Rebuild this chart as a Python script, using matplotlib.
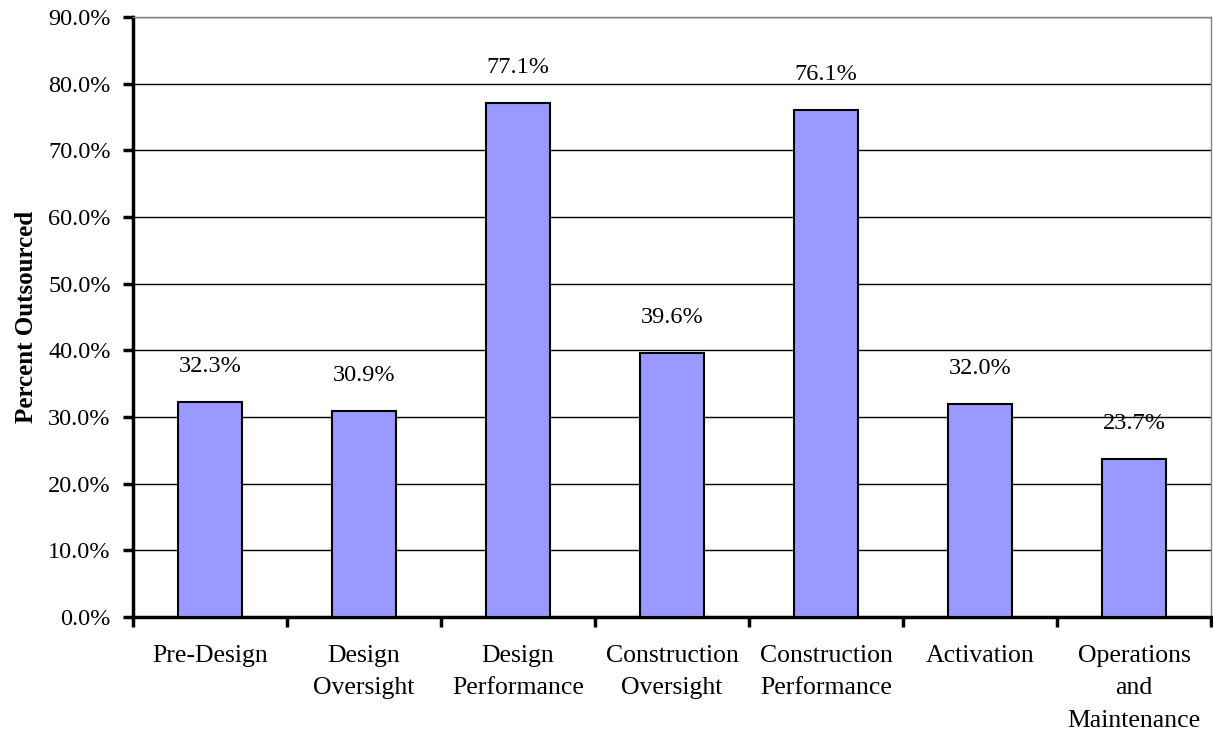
import numpy as np
import matplotlib.pyplot as plt

categories = ["Pre-Design", "Design\nOversight", "Design\nPerformance",
              "Construction\nOversight", "Construction\nPerformance",
              "Activation", "Operations\nand\nMaintenance"]
values = [32.3, 30.9, 77.1, 39.6, 76.1, 32.0, 23.7]
y_ticks = np.arange(0, 91, 10)

plt.rcParams["font.family"] = ["Liberation Serif", "DejaVu Serif"]

fig = plt.figure(figsize=(12.13, 7.36), dpi=100)
ax = fig.add_axes([133 / 1213, 119 / 736, 1078 / 1213, 600 / 736])

x = np.arange(len(categories))
bars = ax.bar(x, values, width=0.41, color="#9999FF", edgecolor="black",
              linewidth=1.5, zorder=3)

for xi, v in zip(x, values):
    ax.annotate(f"{v:.1f}%", (xi, v), xytext=(0, 18), textcoords="offset points",
                ha="center", va="bottom", fontsize=17.5)

ax.set_xlim(-0.5, len(categories) - 0.5)
ax.set_ylim(0, 90)
ax.set_yticks(y_ticks)
ax.set_yticklabels([f"{t:.1f}%" for t in y_ticks], fontsize=17.5)
ax.yaxis.grid(True, color="black", linewidth=1)
ax.set_axisbelow(True)

ax.set_xticks(np.arange(len(categories) + 1) - 0.5)
ax.set_xticklabels([])
ax.set_xticks(x, minor=True)
ax.set_xticklabels(categories, minor=True, fontsize=18.5, linespacing=1.62)
ax.tick_params(axis="x", which="minor", length=0, pad=20)
ax.tick_params(axis="x", which="major", direction="out", length=7, width=2.5)
ax.tick_params(axis="y", direction="out", length=7, width=2.5, pad=9)

ax.spines["left"].set_linewidth(2.5)
ax.spines["bottom"].set_linewidth(2.5)
ax.spines["top"].set_color("gray")
ax.spines["top"].set_linewidth(1)
ax.spines["right"].set_color("gray")
ax.spines["right"].set_linewidth(1)

ax.set_ylabel("Percent Outsourced", fontsize=18, fontweight="bold")
ax.yaxis.set_label_coords(-95 / 1078, 0.5)

fig.savefig("out.png", dpi=100)
